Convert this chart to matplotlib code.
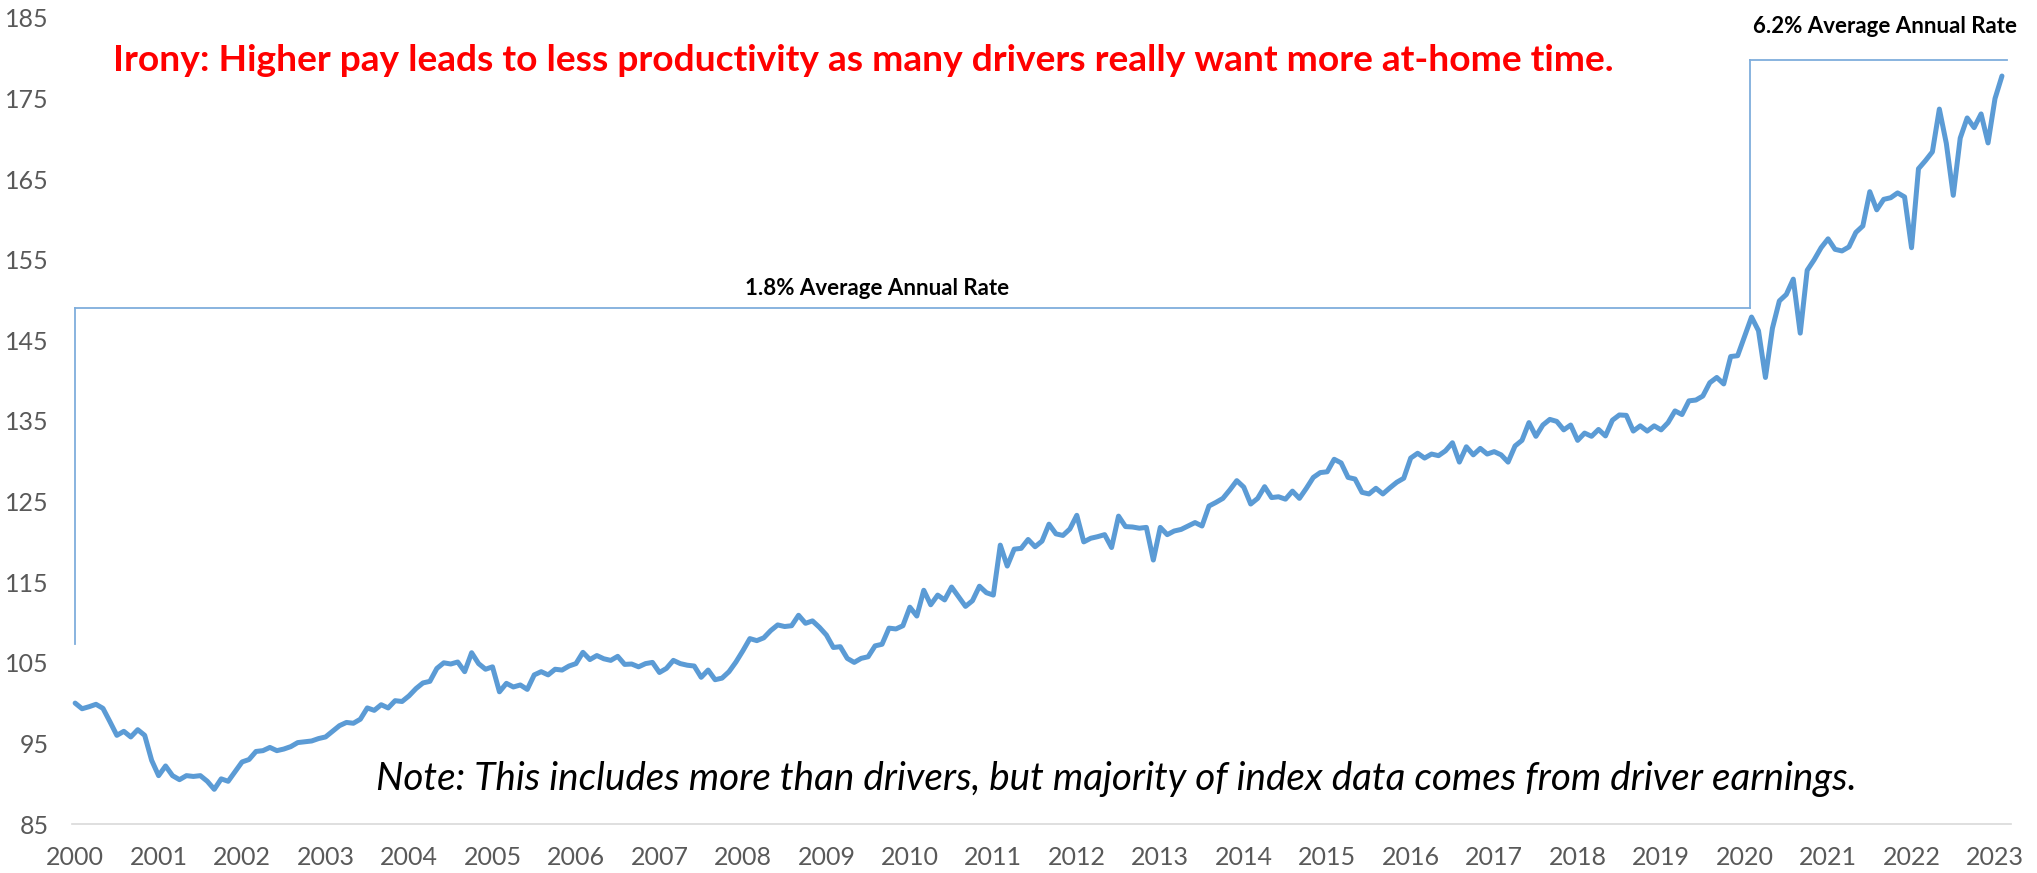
import matplotlib
matplotlib.use("Agg")
import matplotlib.pyplot as plt
import numpy as np

# Monthly index values, Jan 2000 onward
values_2000_2004 = [100.0, 99.3, 99.55, 99.85, 99.35, 97.7, 96.0, 96.5, 95.8, 96.7, 96.0, 92.9,
                    91.0, 92.2, 91.0, 90.5, 91.0, 90.9, 91.0, 90.3, 89.3, 90.6, 90.3, 91.5,
                    92.7, 93.0, 94.0, 94.1, 94.5, 94.1, 94.3, 94.6, 95.1, 95.2, 95.3, 95.6,
                    95.8, 96.5, 97.2, 97.6, 97.5, 98.0, 99.4, 99.1, 99.8, 99.4, 100.3, 100.2,
                    100.9, 101.8, 102.5, 102.7, 104.3, 105.0, 104.85, 105.1, 103.9, 106.25, 104.9, 104.2]
values_2005_2009 = [104.5, 101.4, 102.45, 102.0, 102.25, 101.7, 103.5, 103.9, 103.5, 104.2, 104.1, 104.6,
                    104.9, 106.3, 105.4, 105.9, 105.5, 105.3, 105.8, 104.8, 104.85, 104.5, 104.9, 105.05,
                    103.8, 104.3, 105.3, 104.9, 104.7, 104.6, 103.2, 104.1, 102.9, 103.1, 103.9, 105.1,
                    106.5, 108.0, 107.75, 108.1, 109.0, 109.7, 109.5, 109.6, 110.9, 109.9, 110.2, 109.4,
                    108.45, 106.9, 107.0, 105.55, 105.05, 105.55, 105.75, 107.1, 107.3, 109.3, 109.2, 109.6]
values_2010_2014 = [111.9, 110.8, 114.0, 112.2, 113.4, 112.8, 114.4, 113.2, 112.0, 112.7, 114.5, 113.7,
                    113.4, 119.6, 117.0, 119.1, 119.2, 120.3, 119.4, 120.1, 122.2, 121.0, 120.8, 121.6,
                    123.3, 120.0, 120.45, 120.65, 120.9, 119.3, 123.2, 121.9, 121.85, 121.7, 121.8, 117.75,
                    121.8, 120.9, 121.35, 121.55, 121.97, 122.4, 121.97, 124.45, 124.9, 125.4, 126.45, 127.6,
                    126.8, 124.7, 125.4, 126.85, 125.5, 125.6, 125.3, 126.3, 125.4, 126.65, 128.0, 128.6]
values_2015_2019 = [128.7, 130.25, 129.8, 128.0, 127.8, 126.15, 125.95, 126.65, 125.95, 126.7, 127.4, 127.9,
                    130.4, 131.0, 130.4, 130.9, 130.7, 131.3, 132.3, 129.9, 131.8, 130.8, 131.6, 130.9,
                    131.2, 130.8, 129.9, 131.9, 132.6, 134.8, 133.1, 134.5, 135.2, 134.95, 133.9, 134.5,
                    132.6, 133.5, 133.1, 133.95, 133.15, 135.1, 135.75, 135.7, 133.75, 134.4, 133.75, 134.4,
                    133.9, 134.8, 136.25, 135.8, 137.5, 137.6, 138.1, 139.75, 140.4, 139.6, 143.0, 143.1]
values_2020_2023 = [145.5, 147.9, 146.2, 140.4, 146.5, 149.9, 150.7, 152.6, 145.9, 153.7, 155.0, 156.5,
                    157.6, 156.3, 156.1, 156.6, 158.4, 159.2, 163.45, 161.2, 162.5, 162.7, 163.3, 162.8,
                    156.5, 166.3, 167.3, 168.4, 173.7, 169.45, 163.0, 170.1, 172.6, 171.4, 173.1, 169.5,
                    175.0, 177.8]

year_labels = [str(y) for y in range(2000, 2024)]
y_ticks = list(range(85, 186, 10))

# Annotation brackets (month index, value)
rate_labels = ["1.8% Average Annual Rate", "6.2% Average Annual Rate"]
bracket_low = 149.0
bracket_high = 179.8
left_bracket_bottom = 107.3
bracket_break_month = 240.8
bracket_end_month = 277.7

title_text = "Irony: Higher pay leads to less productivity as many drivers really want more at-home time."
note_text = "Note: This includes more than drivers, but majority of index data comes from driver earnings."

values = np.array(values_2000_2004 + values_2005_2009 + values_2010_2014 +
                  values_2015_2019 + values_2020_2023)
months = np.arange(len(values))

W, H = 2037, 873
fig = plt.figure(figsize=(W / 100, H / 100), dpi=100)
ax = fig.add_axes([72 / W, (H - 824) / H, (2011 - 72) / W, (824 - 18) / H])

FONT = ["Lato", "DejaVu Sans"]
line_blue = "#5B9BD5"
ann_blue = "#7FAEDC"

ax.plot(months, values, color=line_blue, lw=3.6, solid_joinstyle="round", solid_capstyle="round", zorder=3)

# Brackets
ax.plot([0, 0], [left_bracket_bottom, bracket_low], color=ann_blue, lw=1.3)
ax.plot([0, bracket_break_month], [bracket_low, bracket_low], color=ann_blue, lw=1.3)
ax.plot([bracket_break_month, bracket_break_month], [bracket_low, bracket_high], color=ann_blue, lw=1.3)
ax.plot([bracket_break_month, bracket_end_month], [bracket_high, bracket_high], color=ann_blue, lw=1.3)

ax.text(115.3, 151.5, rate_labels[0], ha="center", va="center", fontsize=16,
        fontweight="bold", family=FONT, color="black")
ax.text(260.2, 184.0, rate_labels[1], ha="center", va="center", fontsize=16,
        fontweight="bold", family=FONT, color="black")
ax.text(5.4, 179.7, title_text, ha="left", va="center", fontsize=26.7,
        fontweight="bold", family=FONT, color="#FF0000")
ax.text(43.2, 90.6, note_text, ha="left", va="center", fontsize=27.85,
        style="italic", family=FONT, color="black")

ax.set_xlim(-0.45, 278.3)
ax.set_ylim(85, 185)
ax.set_yticks(y_ticks)
ax.set_yticklabels([str(t) for t in y_ticks])
ax.set_xticks(np.arange(0, 12 * len(year_labels), 12))
ax.set_xticklabels(year_labels)
for lab in ax.get_xticklabels() + ax.get_yticklabels():
    lab.set_family(FONT)
    lab.set_fontsize(18)
    lab.set_color("#595959")
ax.tick_params(axis="both", length=0)
ax.tick_params(axis="y", pad=17)
ax.tick_params(axis="x", pad=16)

for s in ["top", "right", "left"]:
    ax.spines[s].set_visible(False)
ax.spines["bottom"].set_color("#D9D9D9")
ax.spines["bottom"].set_linewidth(1.2)
ax.spines["bottom"].set_zorder(1)

fig.savefig("out.png", dpi=100)
